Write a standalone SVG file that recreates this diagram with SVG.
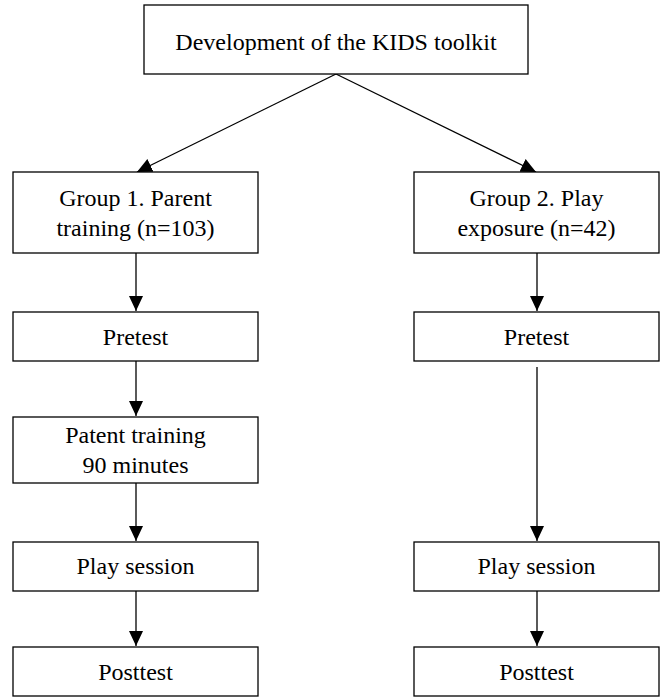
<svg xmlns="http://www.w3.org/2000/svg" width="666" height="697" viewBox="0 0 666 697">
<style>
.box{fill:#fff;stroke:#000;stroke-width:1.3}
.t{font-family:'Liberation Serif','DejaVu Serif',serif;font-size:24px;fill:#000;text-anchor:middle}
.c{stroke:#000;stroke-width:1.3;fill:none}
</style>
<defs>
<marker id="ah" markerUnits="userSpaceOnUse" markerWidth="16" markerHeight="16" viewBox="0 0 16 16" refX="15" refY="8" orient="auto">
<path d="M0,1 L15,8 L0,15 Z" fill="#000"/>
</marker>
</defs>
<rect width="666" height="697" fill="#fff"/>
<g id="connectors">
<line class="c" x1="336" y1="74" x2="137" y2="172" marker-end="url(#ah)"/>
<line class="c" x1="336" y1="74" x2="536" y2="172" marker-end="url(#ah)"/>
<line class="c" x1="136" y1="253" x2="136" y2="311" marker-end="url(#ah)"/>
<line class="c" x1="136" y1="361" x2="136" y2="416" marker-end="url(#ah)"/>
<line class="c" x1="136" y1="483" x2="136" y2="541" marker-end="url(#ah)"/>
<line class="c" x1="136" y1="591" x2="136" y2="646" marker-end="url(#ah)"/>
<line class="c" x1="537" y1="253" x2="537" y2="311" marker-end="url(#ah)"/>
<line class="c" x1="537" y1="367" x2="537" y2="541" marker-end="url(#ah)"/>
<line class="c" x1="537" y1="591" x2="537" y2="646" marker-end="url(#ah)"/>
</g>
<g id="n-top"><rect class="box" x="144" y="5" width="384" height="69"/><text class="t" x="336" y="50">Development of the KIDS toolkit</text></g>
<g id="n-g1"><rect class="box" x="13" y="172" width="245" height="81"/><text class="t" x="135.5" y="206">Group 1. Parent</text><text class="t" x="135.5" y="236">training (n=103)</text></g>
<g id="n-g2"><rect class="box" x="414" y="172" width="245" height="81"/><text class="t" x="536.5" y="206">Group 2. Play</text><text class="t" x="536.5" y="236">exposure (n=42)</text></g>
<g id="n-pre1"><rect class="box" x="13" y="312" width="245" height="49"/><text class="t" x="135.5" y="345">Pretest</text></g>
<g id="n-pre2"><rect class="box" x="414" y="312" width="245" height="49"/><text class="t" x="536.5" y="345">Pretest</text></g>
<g id="n-train"><rect class="box" x="13" y="417" width="245" height="66"/><text class="t" x="135.5" y="443">Patent training</text><text class="t" x="135.5" y="473">90 minutes</text></g>
<g id="n-play1"><rect class="box" x="13" y="542" width="245" height="49"/><text class="t" x="135.5" y="574">Play session</text></g>
<g id="n-play2"><rect class="box" x="414" y="542" width="245" height="49"/><text class="t" x="536.5" y="574">Play session</text></g>
<g id="n-post1"><rect class="box" x="13" y="647" width="245" height="49"/><text class="t" x="135.5" y="680">Posttest</text></g>
<g id="n-post2"><rect class="box" x="414" y="647" width="245" height="49"/><text class="t" x="536.5" y="680">Posttest</text></g>
</svg>
